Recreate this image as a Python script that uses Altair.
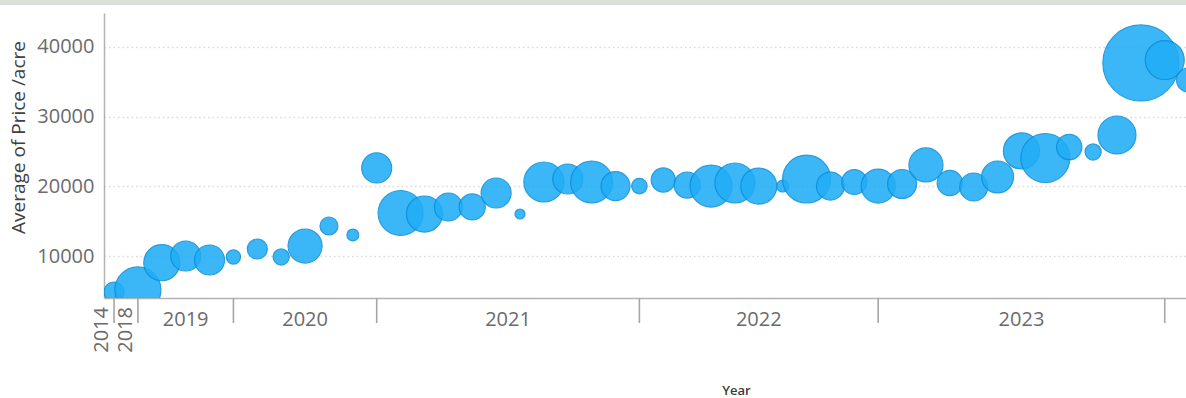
import altair as alt
import pandas as pd

# One entry per month that has sales, in time order
years = [2014, 2018,
         2019, 2019, 2019, 2019,
         2020, 2020, 2020, 2020, 2020, 2020,
         2021, 2021, 2021, 2021, 2021, 2021, 2021, 2021, 2021, 2021, 2021,
         2022, 2022, 2022, 2022, 2022, 2022, 2022, 2022, 2022, 2022,
         2023, 2023, 2023, 2023, 2023, 2023, 2023, 2023, 2023, 2023, 2023, 2023,
         2024]

avg_price = [4890, 5180,
             9080, 10040, 9470, 9900,
             11040, 9900, 11470, 14340, 13050, 22640,
             16200, 16050, 17060, 17060, 19060, 16050, 20630, 21060, 20630, 20050, 20050,
             20920, 20200, 20050, 20490, 20050, 20050, 21060, 20050, 20630, 20050,
             20350, 23070, 20490, 19920, 21350, 25070, 24070, 25640, 24930, 27360, 37670, 38090,
             35230]

sales_count = [20, 106,
               65, 45, 45, 10,
               20, 13, 58, 16, 7, 45,
               101, 65, 39, 34, 45, 5, 80, 45, 88, 42, 12,
               29, 34, 88, 80, 65, 7, 115, 39, 31, 58,
               42, 58, 32, 39, 51, 65, 120, 32, 13, 72, 289, 76,
               29]

labelled_years = [2014, 2018, 2019, 2020, 2021, 2022, 2023]

points = pd.DataFrame({
    "Period": range(len(years)),
    "Year": years,
    "Average of Price /acre": avg_price,
    "Sales": sales_count,
})

# Year groups: separator at the last month of each year, label centred
# between the previous separator and this one
grp = points.groupby("Year")["Period"].agg(["min", "max"]).reset_index()
grp = grp[grp["Year"].isin(labelled_years)].copy()
grp["mid"] = (grp["min"] - 1 + grp["max"]) / 2
grp["span"] = grp["max"] - grp["min"] + 1
grp["label"] = grp["Year"].astype(str)

W, H = 1082, 285
FONT = "Open Sans"

x_scale = alt.Scale(domain=[-0.42, 44.89], nice=False, zero=False)
y_scale = alt.Scale(domain=[4030, 44820], nice=False, zero=False)

bubbles = alt.Chart(points).mark_circle(
    clip=True, color="#20ADF6", opacity=0.88, stroke="#0B8FD9", strokeWidth=1.2
).encode(
    x=alt.X("Period:Q", scale=x_scale,
            axis=alt.Axis(labels=False, ticks=False, grid=False, domain=True,
                          domainColor="#b3b3b3", domainWidth=1.5,
                          title="Year", titleFont=FONT, titleFontSize=13,
                          titleFontWeight=600, titleColor="#3a3a3a",
                          titleX=632, titleY=96, titleAnchor="middle",
                          titleBaseline="alphabetic")),
    y=alt.Y("Average of Price /acre:Q", scale=y_scale,
            axis=alt.Axis(values=[10000, 20000, 30000, 40000], format="d",
                          ticks=False, domain=True, domainColor="#b3b3b3",
                          domainWidth=1.5, grid=True, gridColor="#d9d9d9",
                          gridDash=[1.5, 3], gridWidth=1.5,
                          labelFont=FONT, labelFontSize=20, labelColor="#6b6b6b",
                          labelPadding=10,
                          titleFont=FONT, titleFontSize=19, titleFontWeight="normal",
                          titleColor="#404040", titleX=-86, titleY=124,
                          titleAngle=-90, titleAlign="center",
                          titleBaseline="middle")),
    size=alt.Size("Sales:Q", legend=None,
                  scale=alt.Scale(domain=[0, 289], range=[0, 5780], zero=True)),
)

separators = alt.Chart(grp).mark_rule(color="#a6a6a6", strokeWidth=1.6).encode(
    x=alt.X("max:Q", scale=x_scale),
    y=alt.value(H),
    y2=alt.value(H + 25),
)

flat_labels = alt.Chart(grp).transform_filter("datum.span >= 3").mark_text(
    font=FONT, fontSize=20, color="#6b6b6b", baseline="middle", align="center"
).encode(
    x=alt.X("mid:Q", scale=x_scale),
    y=alt.value(H + 22),
    text="label:N",
)

turned_labels = alt.Chart(grp).transform_filter("datum.span < 3").mark_text(
    font=FONT, fontSize=20, color="#6b6b6b", baseline="middle", align="right",
    angle=270
).encode(
    x=alt.X("mid:Q", scale=x_scale),
    y=alt.value(H + 9),
    text="label:N",
)

# thin grey strip along the top edge of the frame
frame_strip = alt.Chart(points).mark_rect(color="#dcdfd5").encode(
    x=alt.value(-104), x2=alt.value(W), y=alt.value(-13), y2=alt.value(-8)
).transform_filter("datum.Period == 0")

chart = alt.layer(bubbles, separators, flat_labels, turned_labels, frame_strip).properties(
    width=W, height=H,
    padding={"left": 104, "top": 13, "right": 0, "bottom": 100},
    autosize=alt.AutoSizeParams(type="none"),
    background="white",
).configure_view(stroke=None)

chart.save("out.html", embed_options={"renderer": "svg", "actions": False})
